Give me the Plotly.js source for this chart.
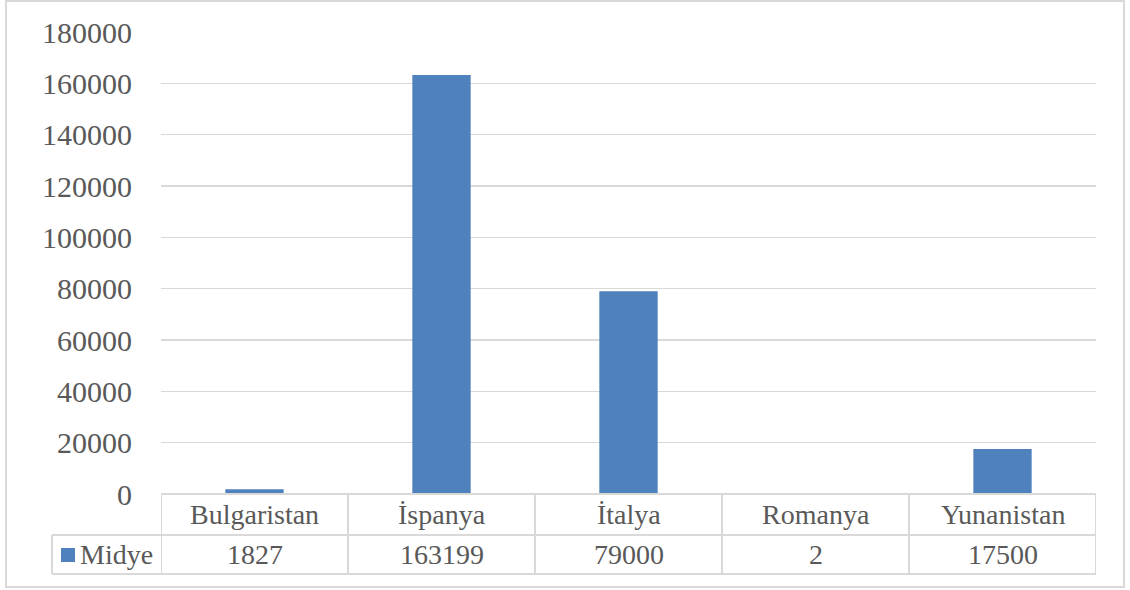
<!DOCTYPE html>
<html>
<head>
<meta charset="utf-8">
<script src="https://cdn.plot.ly/plotly-3.0.1.min.js"></script>
<style>
  html, body { margin: 0; padding: 0; background: #ffffff; }
  #chart { width: 1130px; height: 590px; }
</style>
</head>
<body>
<div id="chart"></div>
<script>
// ---- data ----
const categories = ["Bulgaristan", "İspanya", "İtalya", "Romanya", "Yunanistan"];
const seriesName = "Midye";
const midye = [1827, 163199, 79000, 2, 17500];
const yTickVals = [0, 20000, 40000, 60000, 80000, 100000, 120000, 140000, 160000, 180000];

// ---- geometry (pixels) ----
const W = 1130, H = 590;
const L = 161, R = 1096, T = 32, B = 494;
const PW = R - L, PH = B - T;
const px = x => (x - L) / PW;           // pixel x -> paper x
const py = y => (B - y) / PH;           // pixel y -> paper y

const gridColor = "#D9D9D9";
const textColor = "#595959";
const barColor = "#4F81BD";
const font = "Liberation Serif";

const row1Bottom = 535, row2Bottom = 574, legendLeft = 52;

const shapes = [];
const lineStyle = { color: gridColor, width: 2 };
// outer chart border
shapes.push({ type: "rect", xref: "paper", yref: "paper",
  x0: px(6), x1: px(1124), y0: py(587), y1: py(1),
  line: { color: gridColor, width: 2 }, fillcolor: "rgba(0,0,0,0)", layer: "below" });
// table horizontal lines
shapes.push({ type: "line", xref: "paper", yref: "paper", x0: 0, x1: 1, y0: 0, y1: 0, line: lineStyle });
shapes.push({ type: "line", xref: "paper", yref: "paper", x0: px(legendLeft), x1: 1, y0: py(row1Bottom), y1: py(row1Bottom), line: lineStyle });
shapes.push({ type: "line", xref: "paper", yref: "paper", x0: px(legendLeft), x1: 1, y0: py(row2Bottom), y1: py(row2Bottom), line: lineStyle });
// table vertical lines at category boundaries
for (let i = 0; i <= categories.length; i++) {
  shapes.push({ type: "line", xref: "x", yref: "paper", x0: i - 0.5, x1: i - 0.5,
    y0: 0, y1: py(row2Bottom), line: lineStyle });
}
// legend cell left border
shapes.push({ type: "line", xref: "paper", yref: "paper", x0: px(legendLeft), x1: px(legendLeft),
  y0: py(row1Bottom), y1: py(row2Bottom), line: lineStyle });
// legend key square
shapes.push({ type: "rect", xref: "paper", yref: "paper",
  x0: px(61), x1: px(75), y0: py(562), y1: py(548),
  line: { width: 0 }, fillcolor: barColor });

const annotations = [];
categories.forEach((c, i) => {
  annotations.push({ xref: "x", yref: "paper", x: c, y: py(514), text: c, showarrow: false,
    xanchor: "center", yanchor: "middle", font: { family: font, size: 28, color: textColor } });
  annotations.push({ xref: "x", yref: "paper", x: c, y: py(554), text: String(midye[i]), showarrow: false,
    xanchor: "center", yanchor: "middle", font: { family: font, size: 28, color: textColor } });
});
annotations.push({ xref: "paper", yref: "paper", x: px(78), y: py(554), text: seriesName, showarrow: false,
  xanchor: "left", yanchor: "middle", font: { family: font, size: 28, color: textColor } });

const trace = {
  type: "bar",
  x: categories,
  y: midye,
  name: seriesName,
  marker: { color: barColor },
  hoverinfo: "x+y"
};

const layout = {
  width: W, height: H,
  margin: { l: L, r: W - R, t: T, b: H - B, pad: 0 },
  paper_bgcolor: "#ffffff",
  plot_bgcolor: "#ffffff",
  showlegend: false,
  bargap: 0.688,
  font: { family: font, color: textColor },
  xaxis: {
    type: "category",
    showticklabels: false,
    showgrid: false,
    zeroline: false,
    showline: false,
    ticks: "",
    range: [-0.5, categories.length - 0.5]
  },
  yaxis: {
    range: [0, 180000],
    tickvals: yTickVals,
    ticktext: yTickVals.map(String),
    showgrid: true,
    gridcolor: gridColor,
    gridwidth: 1.5,
    zeroline: false,
    showline: false,
    ticks: "",
    ticklabelstandoff: 28,
    tickfont: { family: font, size: 30, color: textColor }
  },
  shapes: shapes,
  annotations: annotations
};

Plotly.newPlot("chart", [trace], layout, { displayModeBar: false, staticPlot: true });
</script>
</body>
</html>
